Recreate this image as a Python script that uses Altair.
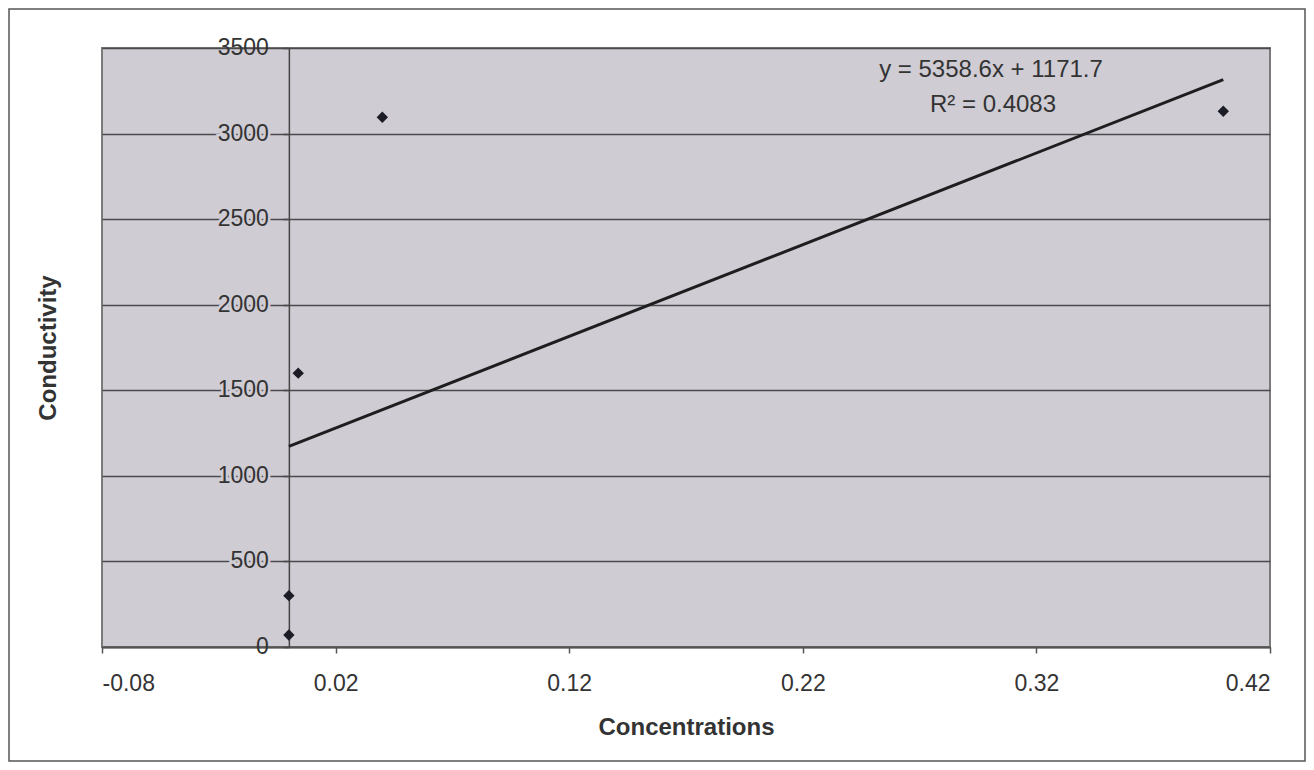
import altair as alt
import pandas as pd

# ---- data ----
concentrations = [0.0, 0.0, 0.004, 0.04, 0.40]
conductivity = [70, 300, 1600, 3095, 3130]

slope = 5358.6
intercept = 1171.7
r_squared = 0.4083

x_ticks = [-0.08, 0.02, 0.12, 0.22, 0.32, 0.42]
y_ticks = [0, 500, 1000, 1500, 2000, 2500, 3000, 3500]

# ---- styling ----
W, H = 1168, 599
BG = "#cfccd4"
FONT = "Liberation Sans"
TXT = "#333333"

points = pd.DataFrame({"x": concentrations, "y": conductivity})
xmin, xmax = min(concentrations), max(concentrations)
trend = pd.DataFrame({"x": [xmin, xmax], "y": [slope * xmin + intercept, slope * xmax + intercept]})
ylabels = pd.DataFrame({"y": y_ticks, "label": [str(v) for v in y_ticks]})
eq_line = f"y = {slope}x + {intercept}"
r2_line = f"R\u00b2 = {r_squared}"

xscale = alt.Scale(domain=[x_ticks[0], x_ticks[-1]], nice=False, zero=False)
yscale = alt.Scale(domain=[y_ticks[0], y_ticks[-1]], nice=False, zero=False)

x_axis = alt.Axis(
    values=x_ticks, grid=False, title="Concentrations",
    labelExpr="datum.value < 0 ? '-' + format(-datum.value, '.2f') : format(datum.value, '.2f')",
    labelFont=FONT, labelFontSize=23, labelColor=TXT, labelPadding=19,
    tickSize=6, tickColor="#555555", tickWidth=1.5,
    domainColor="#555555", domainWidth=2,
    titleFont=FONT, titleFontSize=24, titleFontWeight="bold", titleColor=TXT,
    titleY=80, titleBaseline="middle",
)
y_axis = alt.Axis(
    values=y_ticks, labels=False, grid=True, gridColor="#4a4a4a", gridWidth=1.5,
    offset=-(W * 0.08 / 0.5), title="Conductivity",
    tickSize=6, tickColor="#4a4a4a", tickWidth=1.5,
    domainColor="#444444", domainWidth=1.5,
    titleFont=FONT, titleFontSize=24, titleFontWeight="bold", titleColor=TXT,
    titleX=-(W * 0.08 / 0.5) - 54, titleY=H / 2, titleAngle=270,
    titleAlign="center", titleBaseline="middle",
)

base_pts = alt.Chart(points).mark_point(
    shape="diamond", filled=True, size=130, color="#1c1c26", opacity=1
).encode(
    x=alt.X("x:Q", scale=xscale, axis=x_axis),
    y=alt.Y("y:Q", scale=yscale, axis=y_axis),
)

trend_line = alt.Chart(trend).mark_line(color="#1e1e1e", strokeWidth=3).encode(
    x=alt.X("x:Q", scale=xscale), y=alt.Y("y:Q", scale=yscale)
)

label_halo = alt.Chart(ylabels).transform_filter(
    (alt.datum.y > y_ticks[0]) & (alt.datum.y < y_ticks[-1])
).mark_text(
    align="right", baseline="middle", dx=-20, font=FONT, fontSize=23,
    stroke=BG, strokeWidth=5, fill=BG
).encode(x=alt.datum(0, scale=xscale), y=alt.Y("y:Q", scale=yscale), text="label:N")

label_text = alt.Chart(ylabels).mark_text(
    align="right", baseline="middle", dx=-20, font=FONT, fontSize=23, color=TXT
).encode(x=alt.datum(0, scale=xscale), y=alt.Y("y:Q", scale=yscale), text="label:N")

eq_text = alt.Chart(alt.Data(values=[{"t": eq_line}])).mark_text(
    align="center", baseline="alphabetic", font=FONT, fontSize=24, color=TXT
).encode(x=alt.value(889), y=alt.value(29), text="t:N")

r2_text = alt.Chart(alt.Data(values=[{"t": r2_line}])).mark_text(
    align="center", baseline="alphabetic", font=FONT, fontSize=24, color=TXT
).encode(x=alt.value(891), y=alt.value(64), text="t:N")

frame = alt.Chart(alt.Data(values=[{}])).mark_rect(
    filled=False, stroke="#555555", strokeWidth=1.5
).encode(
    x=alt.value(-93), x2=alt.value(W + 35), y=alt.value(-39), y2=alt.value(H + 114)
)

chart = alt.layer(
    base_pts, trend_line, label_halo, label_text, eq_text, r2_text, frame
).properties(
    width=W, height=H,
    autosize=alt.AutoSizeParams(type="none"),
    padding={"left": 94, "top": 40, "right": 36, "bottom": 115},
    background="white",
).configure_view(
    fill=BG, stroke="#7a7a7a", strokeWidth=2
)

chart.save("out.html", embed_options={"renderer": "svg", "actions": False})
